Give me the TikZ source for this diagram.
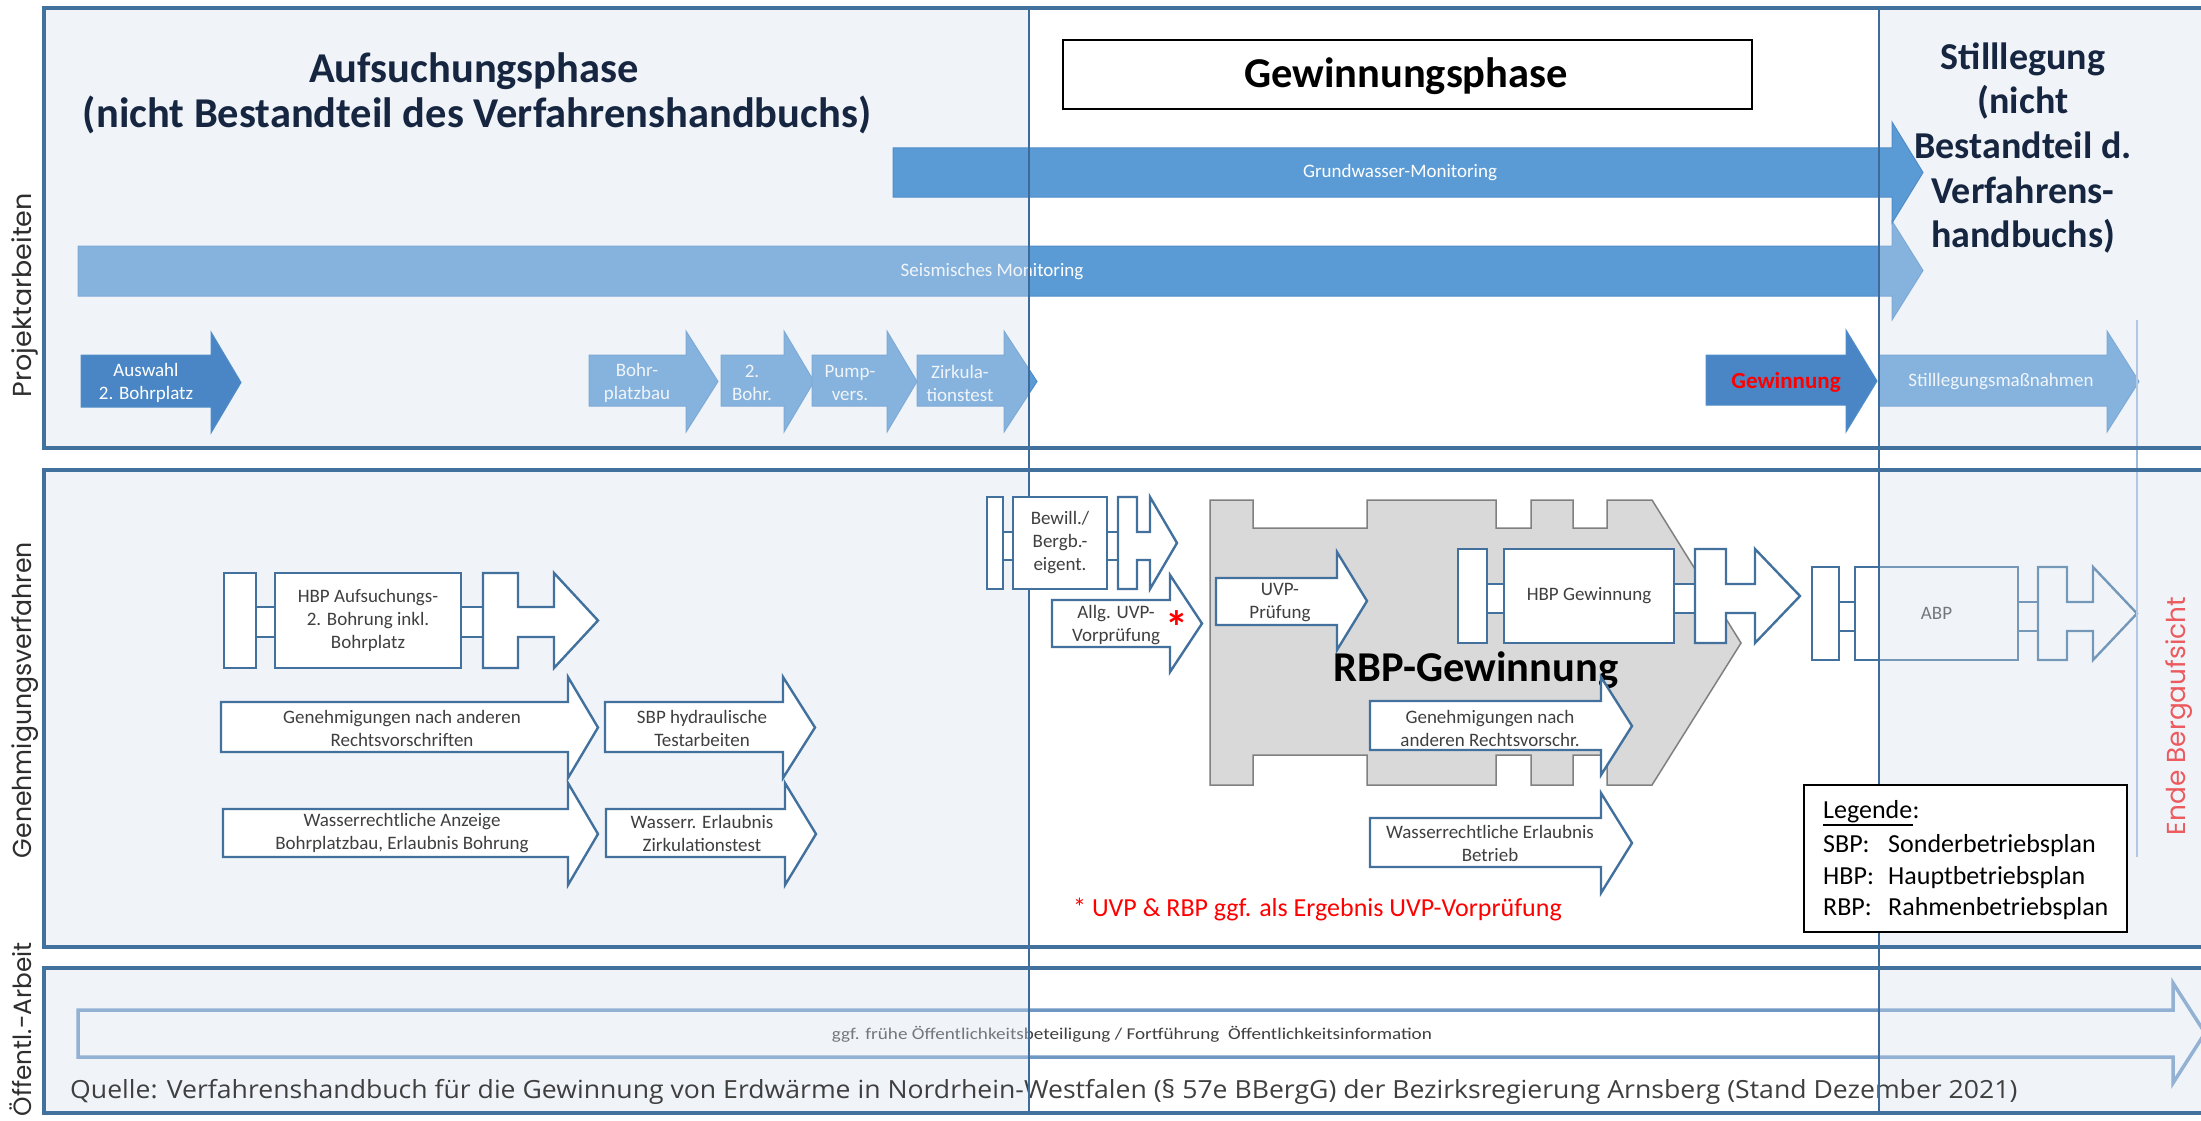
\documentclass[tikz,border=0pt]{standalone}
\usepackage{fontspec}
\setmainfont{Carlito}
\newfontfamily\sidefont{Poppins}
\newfontfamily\srcfont{Open Sans}
\usepackage{graphicx}
\definecolor{frame}{HTML}{41719C}
\definecolor{sepc}{HTML}{3D6B9C}
\definecolor{ablue}{HTML}{5B9BD5}
\definecolor{abedge}{HTML}{4F8CC8}
\definecolor{adark}{HTML}{4A86C5}
\definecolor{ovl}{HTML}{D6E2F0}
\definecolor{outl}{HTML}{41719C}
\definecolor{titlec}{HTML}{172640}
\definecolor{txtg}{HTML}{3F3F3F}
\definecolor{grayf}{HTML}{D9D9D9}
\definecolor{grayd}{HTML}{808080}
\definecolor{endred}{HTML}{EC5A5E}
\definecolor{thinl}{HTML}{9DBBDC}
\definecolor{botl}{HTML}{6F97C4}
\newcommand\fsz[2]{\fontsize{#1}{#2}\selectfont}
\newcommand\arrowshape[7]{(#1,#4) -- (#2,#4) -- (#2,#6) -- (#3,{(#6+#7)/2}) -- (#2,#7) -- (#2,#5) -- (#1,#5) -- cycle}
\newcommand\planparts[9]{%
  \draw[#9] (#1,\pyT) rectangle (#2,\pyB);
  \draw[#9] (#2,\pysa) rectangle (#3,\pysb);
  \draw[#9] (#4,\pysa) rectangle (#5,\pysb);
  \draw[#9] (#5,\pyT) -- (#6,\pyT) -- (#6,\pysa) -- (#7,\pysa) -- (#7,\pyT) -- (#8,{(\pyT+\pyB)/2}) -- (#7,\pyB) -- (#7,\pysb) -- (#6,\pysb) -- (#6,\pyB) -- (#5,\pyB) -- cycle;
}
\tikzset{
  wa/.style={fill=white, draw=outl, line width=2.4pt, line join=miter},
  ba/.style={fill=ablue, draw=abedge, line width=1pt},
  bd/.style={fill=adark, draw=abedge, line width=1pt},
  lbl/.style={inner sep=0pt, align=center, text=txtg, font=\fsz{19}{23}},
  wlbl/.style={lbl, text=white},
  ttl/.style={inner sep=0pt, anchor=base, text=titlec, font=\fsz{42.5}{45}\bfseries},
  sttl/.style={ttl, font=\fsz{38}{44}\bfseries},
  side/.style={inner sep=0pt, rotate=90, anchor=base, text=black!82},
  glyph/.style={fill=white, draw=outl, line width=2.4pt},
  plantext/.style={inner sep=0pt, align=center, text=txtg, font=\fsz{19}{23}},
  legt/.style={inner sep=0pt, anchor=base west, font=\fsz{26}{30}},
}
\begin{document}
\begin{tikzpicture}[x=1pt, y=-1pt]
\useasboundingbox (0,0) rectangle (2201,1121);
\clip (0,0) rectangle (2201,1121);
\fill[white] (0,0) rectangle (2201,1121);

% ---------- items lying under the column tint ----------
\draw[ba] \arrowshape{78}{1892}{1923}{246}{296}{221}{320};
\node[wlbl] (seis) at (992,272) {Seismisches Monitoring};

\draw[ba] \arrowshape{589}{686}{718}{355}{406}{331}{432};
\node[wlbl] (bohr) at (637,383) {Bohr-\\platzbau};
\draw[ba] \arrowshape{721}{784}{814}{355}{406}{331}{432};
\node[wlbl] (bohrz) at (752,383) {2.\\Bohr.};
\draw[ba] \arrowshape{812}{887}{917}{355}{406}{331}{432};
\node[wlbl] (pump) at (850,383) {Pump-\\vers.};
\draw[ba] \arrowshape{917}{1004}{1037}{355}{406}{331}{432};
\node[wlbl] (zirk) at (960,383) {Zirkula-\\tionstest};

\draw[ba] \arrowshape{1879}{2107}{2139}{355}{406}{331}{432};
\node[wlbl] (stillm) at (2001,382) {Stilllegungsmaßnahmen};

\def\pyT{567}\def\pyB{660}\def\pysa{602}\def\pysb{631}
\planparts{1812}{1839}{1855}{2018}{2038}{2067}{2093}{2137}{glyph}
\node[glyph, plantext, minimum width=163pt, minimum height=93pt] (abp) at (1936.5,613.5) {ABP};

\draw[thinl, line width=1.5pt] (2137,320) -- (2137,857);

\draw[fill=white, draw=botl, line width=3.5pt] \arrowshape{78}{2173}{2205}{1010}{1057}{983}{1083};
\node[lbl, font=\fsz{16.5}{20}] (oeff) at (1132,1034) {\resizebox{600pt}{\height}{ggf. frühe Öffentlichkeitsbeteiligung / Fortführung\ \ Öffentlichkeitsinformation}};

% ---------- column tint ----------
\fill[ovl, opacity=0.35] (44,8) rectangle (1029,448) (44,470) rectangle (1029,947) (44,968) rectangle (1029,1113)
  (1879,8) rectangle (2201,448) (1879,470) rectangle (2201,947) (1879,968) rectangle (2201,1113);

% ---------- top panel ----------
\draw[ba] \arrowshape{893}{1892}{1923}{148}{197}{122}{223};
\node[wlbl] (gw) at (1400,173) {Grundwasser-Monitoring};
\draw[bd] \arrowshape{81}{211}{241}{355}{407}{332}{433};
\node[wlbl] (ausw) at (146,383) {Auswahl\\2. Bohrplatz};
\draw[bd] \arrowshape{1706}{1846}{1877}{355}{405}{330}{432};
\node[lbl, text=red, font=\fsz{23}{26}\bfseries] (gew) at (1786,382) {Gewinnung};

\node[ttl] (tauf) at (474,83) {Aufsuchungsphase};
\node[ttl] (taufb) at (477,128) {(nicht Bestandteil des Verfahrenshandbuchs)};
\node[draw=black, line width=2pt, fill=white, minimum width=689pt, minimum height=69pt, inner sep=0pt] (gbox) at (1407.5,74.5) {};
\node[ttl, text=black] (tgew) at (1406,88) {Gewinnungsphase};
\node[sttl] (st1) at (2023,70) {Stilllegung};
\node[sttl] (st2) at (2023,114) {(nicht};
\node[sttl] (st3) at (2023,158) {Bestandteil d.};
\node[sttl] (st4) at (2023,203) {Verfahrens-};
\node[sttl] (st5) at (2023,247) {handbuchs)};

% ---------- source line ----------
\node[inner sep=0pt, anchor=base west, text=txtg, font=\srcfont\fsz{25}{30}] (quelle) at (70,1098) {\resizebox{1947pt}{\height}{Quelle: Verfahrenshandbuch für die Gewinnung von Erdwärme in Nordrhein-Westfalen (§ 57e BBergG) der Bezirksregierung Arnsberg (Stand Dezember 2021)}};

% ---------- column separators ----------
\draw[sepc, line width=2pt] (1029,8) -- (1029,1113);
\draw[sepc, line width=2.5pt] (1879,8) -- (1879,1113);

% ---------- approval panel ----------
\def\pyT{573}\def\pyB{668}\def\pysa{607}\def\pysb{637}
\planparts{224}{256}{275}{461}{483}{518}{554}{598}{glyph}
\node[glyph, plantext, minimum width=186pt, minimum height=95pt] (hbpa) at (368,620.5) {HBP Aufsuchungs-\\2. Bohrung inkl.\\Bohrplatz};

\draw[wa] \arrowshape{221}{568}{598}{702}{752}{677}{778};
\node[lbl] (gena) at (402,728) {Genehmigungen nach anderen\\Rechtsvorschriften};
\draw[wa] \arrowshape{605}{783}{815}{702}{752}{677}{778};
\node[lbl] (sbp) at (702,728) {SBP hydraulische\\Testarbeiten};
\draw[wa] \arrowshape{223}{568}{598}{809}{857}{783}{885};
\node[lbl] (wra) at (402,833) {Wasserrechtliche Anzeige\\Bohrplatzbau, Erlaubnis Bohrung};
\draw[wa] \arrowshape{606}{785}{816}{809}{857}{783}{885};
\node[lbl] (wez) at (702,833) {Wasserr. Erlaubnis\\Zirkulationstest};

\def\pyT{497}\def\pyB{589}\def\pysa{532}\def\pysb{560}
\planparts{987}{1003}{1013}{1107}{1118}{1137}{1150}{1177}{glyph}
\node[glyph, plantext, minimum width=94pt, minimum height=92pt] (bew) at (1060,543) {Bewill./\\Bergb.-\\eigent.};

\draw[wa] \arrowshape{1052}{1170}{1202}{600}{647}{575}{672};
\node[lbl] (allg) at (1116,625) {Allg. UVP-\\Vorprüfung};
\node[inner sep=0pt, anchor=base, text=red, font=\fsz{46}{46}\bfseries] (ast) at (1177,643) {*};

\draw[fill=grayf, draw=grayd, line width=1.5pt]
  (1210,500) -- (1253,500) -- (1253,528) -- (1367,528) -- (1367,500) -- (1496,500) -- (1496,528) -- (1531,528) -- (1531,500)
  -- (1573,500) -- (1573,528) -- (1607,528) -- (1607,500) -- (1652,500) -- (1741,643) -- (1652,785) -- (1607,785)
  -- (1607,755) -- (1573,755) -- (1573,785) -- (1531,785) -- (1531,755) -- (1496,755) -- (1496,785) -- (1367,785)
  -- (1367,755) -- (1253,755) -- (1253,785) -- (1210,785) -- cycle;

\draw[wa] \arrowshape{1216}{1337}{1367}{578}{625}{552}{650};
\node[lbl] (uvp) at (1280,603) {UVP-\\Prüfung};

\def\pyT{549}\def\pyB{643}\def\pysa{584}\def\pysb{613}
\planparts{1458}{1487}{1504}{1674}{1695}{1726}{1755}{1800}{glyph}
\node[glyph, plantext, minimum width=170pt, minimum height=94pt] (hbpg) at (1589,596) {HBP Gewinnung};

\node[ttl, text=black] (rbp) at (1476,681) {RBP-Gewinnung};

\draw[wa] \arrowshape{1370}{1601}{1632}{701}{750}{677}{775};
\node[lbl] (genb) at (1490,728) {Genehmigungen nach\\anderen Rechtsvorschr.};
\draw[wa] \arrowshape{1370}{1601}{1632}{818}{867}{793}{893};
\node[lbl] (wrb) at (1490,843) {Wasserrechtliche Erlaubnis\\Betrieb};

\node[inner sep=0pt, anchor=base west, text=red, font=\fsz{26}{30}] (fn) at (1073,916) {* UVP \& RBP ggf. als Ergebnis UVP-Vorprüfung};

% ---------- legend ----------
\node[draw=black, line width=2pt, fill=white, minimum width=323pt, minimum height=147pt, inner sep=0pt] (leg) at (1965.5,858.5) {};
\node[legt] (legh) at (1823,818) {Legende};
\node[legt] (legc) at (legh.base east) {:};
\draw[line width=1.8pt] ([yshift=-7pt]legh.base west) -- ([yshift=-7pt]legh.base east);
\node[legt] (la) at (1823,852) {SBP:};
\node[legt] (lat) at (1888,852) {Sonderbetriebsplan};
\node[legt] (lb) at (1823,884) {HBP:};
\node[legt] (lbt) at (1888,884) {Hauptbetriebsplan};
\node[legt] (lc) at (1823,915) {RBP:};
\node[legt] (lct) at (1888,915) {Rahmenbetriebsplan};

% ---------- side labels ----------
\node[side, text=endred, font=\sidefont\fsz{26}{30}] (ende) at (2185,716) {\resizebox{238pt}{\height}{Ende Bergaufsicht}};
\node[side, font=\sidefont\fsz{26}{30}] (sproj) at (31,295) {\resizebox{204pt}{\height}{Projektarbeiten}};
\node[side, font=\sidefont\fsz{26}{30}] (sgen) at (31,700) {\resizebox{316pt}{\height}{Genehmigungsverfahren}};
\node[side, anchor=base east, font=\sidefont\fsz{25}{30}] (soef) at (31,942) {\resizebox{174pt}{\height}{Öffentl.-Arbeit}};

% ---------- panel borders ----------
\draw[frame, line width=3.5pt, line join=miter] (2201,8) -- (44,8) -- (44,448) -- (2201,448);
\draw[frame, line width=3.5pt, line join=miter] (2201,470) -- (44,470) -- (44,947) -- (2201,947);
\draw[frame, line width=3.5pt, line join=miter] (2201,968) -- (44,968) -- (44,1113) -- (2201,1113);
\end{tikzpicture}
\end{document}
